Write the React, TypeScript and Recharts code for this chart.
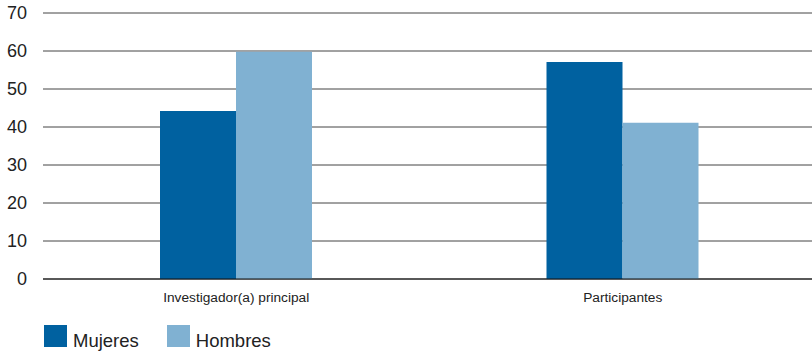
import React from 'react';
import { BarChart, Bar, XAxis, YAxis, CartesianGrid } from 'recharts';

const categories = ['Investigador(a) principal', 'Participantes'];
const mujeres = [44.2, 57.1];
const hombres = [59.8, 41.1];
const yTicks = [0, 10, 20, 30, 40, 50, 60, 70];

const COLOR_MUJERES = '#0061a0';
const COLOR_HOMBRES = '#80b1d2';
const FONT = '"Liberation Sans", Arial, Helvetica, sans-serif';

const data = categories.map((name, i) => ({
  name,
  Mujeres: mujeres[i],
  Hombres: hombres[i]
}));

function LegendItem({ color, label, gap }: { color: string; label: string; gap: number }) {
  return <div style={{ display: 'flex', alignItems: 'flex-end', marginRight: gap }}>
      <div style={{ width: 23, height: 22, background: color }} />
      <span style={{ fontSize: 18.5, color: '#222', marginLeft: 6, lineHeight: '18px', marginBottom: -3 }}>{label}</span>
    </div>;
}

export default function App() {
  return <div style={{ position: 'fixed', left: 0, top: 0, width: 812, height: 355, background: '#fff', fontFamily: FONT, overflow: 'hidden' }}>
      <BarChart width={816} height={310} data={data} margin={{ top: 13, right: 0, left: 0, bottom: 0 }} barCategoryGap={117} barGap={0}>
        <CartesianGrid vertical={false} stroke="#444" strokeWidth={1} />
        <XAxis dataKey="name" height={31} axisLine={{ stroke: '#111' }} tickLine={false} tickSize={0} tickMargin={13}
          tick={{ fontSize: 13.7, fill: '#222', fontFamily: FONT }} interval={0} />
        <YAxis width={43} domain={[0, 70]} ticks={yTicks} axisLine={false} tickLine={false} tickSize={0} tickMargin={16}
          tick={{ fontSize: 18, fill: '#222', fontFamily: FONT }} />
        <Bar dataKey="Mujeres" fill={COLOR_MUJERES} isAnimationActive={false} />
        <Bar dataKey="Hombres" fill={COLOR_HOMBRES} isAnimationActive={false} />
      </BarChart>
      <div style={{ position: 'absolute', left: 44, top: 325, display: 'flex' }}>
        <LegendItem color={COLOR_MUJERES} label="Mujeres" gap={28} />
        <LegendItem color={COLOR_HOMBRES} label="Hombres" gap={0} />
      </div>
    </div>;
}
